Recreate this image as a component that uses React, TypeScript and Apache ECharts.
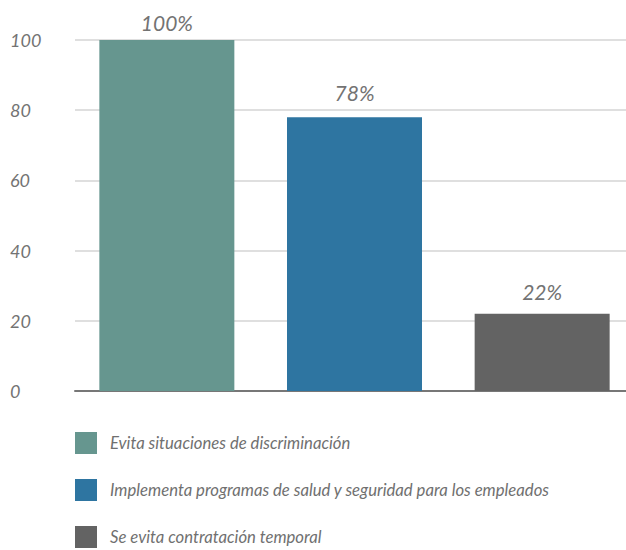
import React, { useEffect, useRef } from "react";
import * as echarts from "echarts";

const categories = [""];
const seriesNames = [
  "Evita situaciones de discriminación",
  "Implementa programas de salud y seguridad para los empleados",
  "Se evita contratación temporal",
];
const values = [100, 78, 22];
const colors = ["#66968f", "#2e75a1", "#636363"];
const yTicks = { min: 0, max: 100, interval: 20 };
const labelDistances = [7, 14, 12];

const FONT = "Lato";

export default function App() {
  const ref = useRef<HTMLDivElement>(null);
  useEffect(() => {
    if (!ref.current) return;
    const chart = echarts.init(ref.current, undefined, { renderer: "svg" });
    chart.setOption({
      animation: false,
      textStyle: { fontFamily: FONT },
      grid: {
        left: 75,
        width: 559,
        top: 40,
        height: 351,
        containLabel: false,
        outerBoundsMode: "none",
      },
      legend: {
        orient: "vertical",
        left: 75,
        top: 432,
        height: 200,
        padding: 0,
        itemWidth: 22,
        itemHeight: 22,
        itemGap: 25,
        icon: "rect",
        data: seriesNames,
        textStyle: {
          fontFamily: FONT,
          fontStyle: "italic",
          fontSize: 16.7,
          fontWeight: 400,
          color: "#707070",
          padding: [0, 0, 0, 8],
        },
      },
      xAxis: {
        type: "category",
        data: categories,
        axisLine: { show: true, lineStyle: { color: "#777777", width: 2 } },
        axisTick: { show: false },
        axisLabel: { show: false },
      },
      yAxis: {
        type: "value",
        min: yTicks.min,
        max: yTicks.max,
        interval: yTicks.interval,
        axisLine: { show: false },
        axisTick: { show: false },
        splitLine: { lineStyle: { color: "#d4d4d4", width: 1.5 } },
        axisLabel: {
          align: "left",
          margin: 65,
          fontFamily: FONT,
          fontStyle: "italic",
          fontWeight: 400,
          fontSize: 18,
          color: "#737373",
          padding: [4, 0, 0, 0],
        },
      },
      series: seriesNames.map((name, i) => ({
        name,
        type: "bar",
        data: [values[i]],
        barWidth: 135,
        barGap: "39%",
        itemStyle: { color: colors[i] },
        label: {
          show: true,
          position: "top",
          distance: labelDistances[i],
          formatter: "{c}%",
          fontFamily: FONT,
          fontStyle: "italic",
          fontWeight: 400,
          fontSize: 21,
          color: "#737373",
        },
      })),
    });
    return () => chart.dispose();
  }, []);
  return (
    <div
      ref={ref}
      style={{ position: "absolute", left: 0, top: 0, width: 626, height: 550 }}
    />
  );
}
